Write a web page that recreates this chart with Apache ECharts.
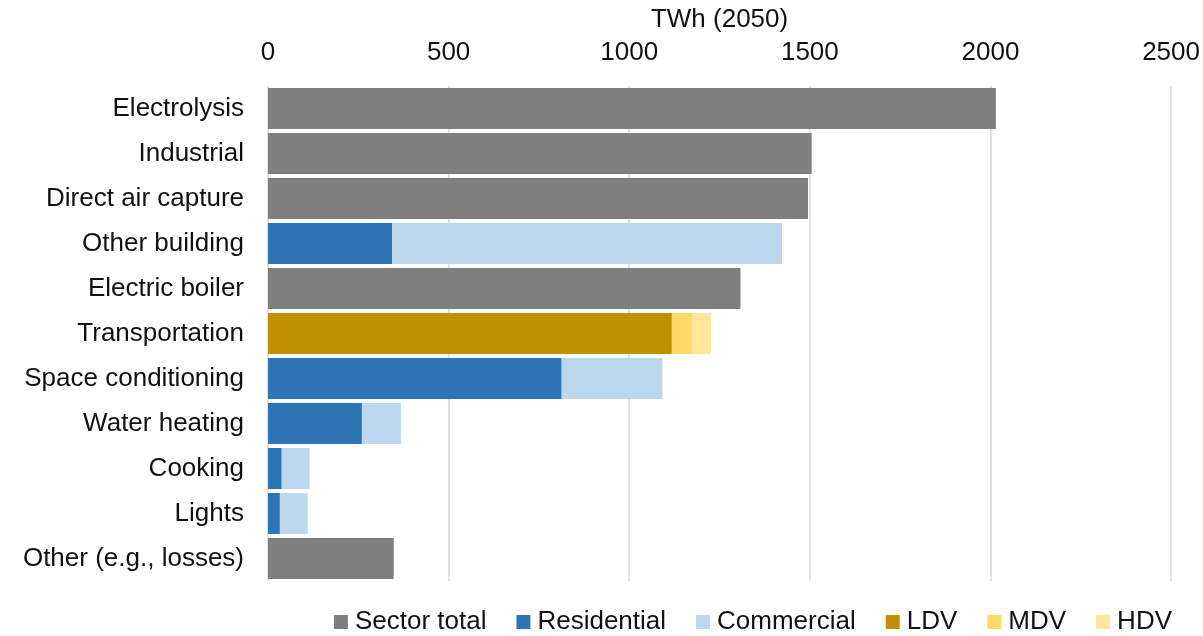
<!DOCTYPE html>
<html>
<head>
<meta charset="utf-8">
<script src="https://cdn.jsdelivr.net/npm/echarts@6/dist/echarts.min.js"></script>
<style>
  html, body { margin: 0; padding: 0; background: #fff; }
  #chart { width: 1203px; height: 636px; }
</style>
</head>
<body>
<div id="chart"></div>
<script>
// End-use electricity demand by sector, TWh in 2050
const categories = [
  'Electrolysis', 'Industrial', 'Direct air capture', 'Other building',
  'Electric boiler', 'Transportation', 'Space conditioning', 'Water heating',
  'Cooking', 'Lights', 'Other (e.g., losses)'
];
const sectorTotal = [2015, 1505, 1495, null, 1308, null, null, null, null, null, 348];
const residential = [null, null, null, 344, null, null, 813, 260, 38, 33, null];
const commercial  = [null, null, null, 1079, null, null, 279, 108, 77, 77, null];
const ldv         = [null, null, null, null, null, 1118, null, null, null, null, null];
const mdv         = [null, null, null, null, null, 56, null, null, null, null, null];
const hdv         = [null, null, null, null, null, 52, null, null, null, null, null];
const axisTicks = { min: 0, max: 2500, interval: 500 };

const FONT = 'Liberation Sans, Arial, sans-serif';
const FS = 26;

function bar(name, data, color) {
  return {
    name: name,
    type: 'bar',
    stack: 'demand',
    data: data,
    barCategoryGap: '9%',
    itemStyle: { color: color },
    emphasis: { disabled: true }
  };
}

const chart = echarts.init(document.getElementById('chart'), null, { renderer: 'canvas' });
chart.setOption({
  animation: false,
  textStyle: { fontFamily: FONT },
  grid: { left: 268, right: 31, top: 86, bottom: 55, containLabel: false },
  xAxis: {
    type: 'value',
    position: 'top',
    min: axisTicks.min,
    max: axisTicks.max,
    interval: axisTicks.interval,
    name: 'TWh (2050)',
    nameLocation: 'middle',
    nameGap: 53,
    nameTextStyle: { fontSize: FS, color: '#111', fontFamily: FONT },
    axisLine: { show: false },
    axisTick: { show: false },
    axisLabel: { fontSize: FS, color: '#111', margin: 20, fontFamily: FONT, formatter: v => String(v) },
    splitLine: { show: true, lineStyle: { color: '#d9d9d9', width: 1.5 } }
  },
  yAxis: {
    type: 'category',
    inverse: true,
    data: categories,
    axisLine: { show: false },
    axisTick: { show: false },
    axisLabel: { fontSize: FS, color: '#111', margin: 24, fontFamily: FONT }
  },
  legend: {
    bottom: -4,
    right: 26,
    itemWidth: 14,
    itemHeight: 14,
    itemGap: 30,
    icon: 'rect',
    textStyle: { fontSize: FS, color: '#111', fontFamily: FONT, padding: [0, 0, 0, 2] },
    data: ['Sector total', 'Residential', 'Commercial', 'LDV', 'MDV', 'HDV']
  },
  series: [
    bar('Sector total', sectorTotal, '#7f7f7f'),
    bar('Residential', residential, '#2e75b6'),
    bar('Commercial', commercial, '#bdd7ee'),
    bar('LDV', ldv, '#bf9000'),
    bar('MDV', mdv, '#ffd966'),
    bar('HDV', hdv, '#ffe699')
  ]
});
</script>
</body>
</html>
